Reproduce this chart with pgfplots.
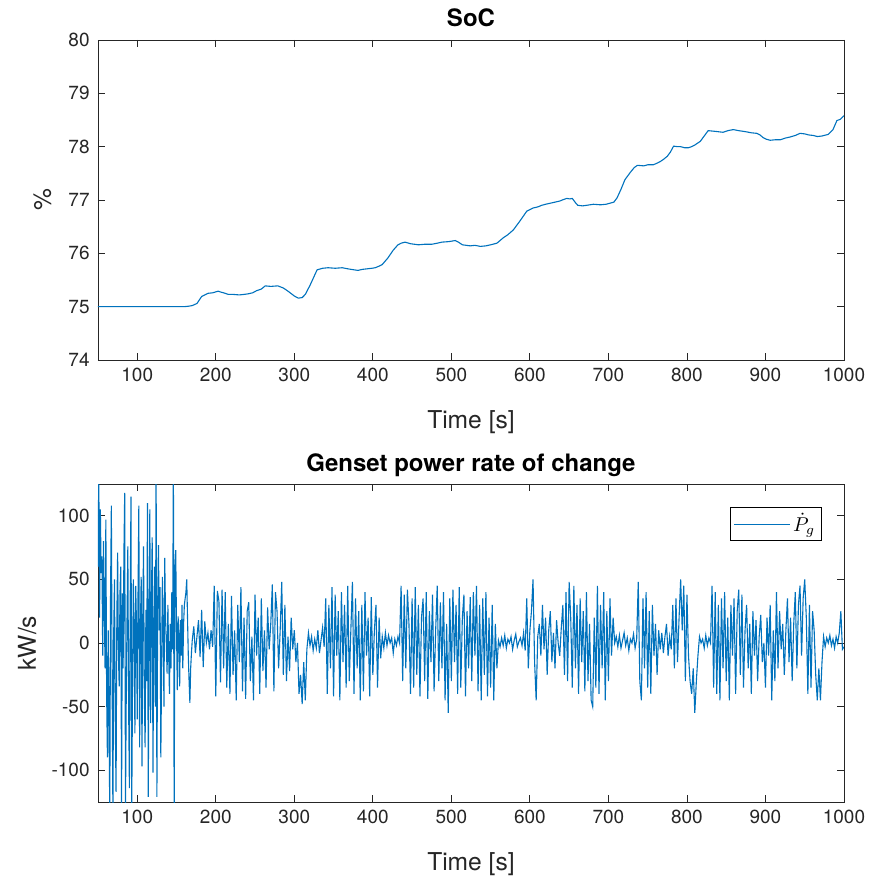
\documentclass[border=0pt]{standalone}
\usepackage{pgfplots}
\pgfplotsset{compat=1.18}
\usepackage{fontspec}
\setmainfont{TeX Gyre Heros}
\definecolor{mblue}{rgb}{0,0.447,0.741}
\definecolor{maxis}{rgb}{0.15,0.15,0.15}
\pgfplotsset{
  mstyle/.style={
    scale only axis, width=373pt,
    xmin=50, xmax=1000,
    xtick={100,200,...,1000},
    axis line style={maxis, line width=0.4pt},
    tick style={maxis, line width=0.4pt},
    major tick length=3.5pt,
    tick align=inside,
    /pgf/number format/assume math mode=true,
    /pgf/number format/1000 sep={},
    tick label style={font=\fontsize{9.5}{11}\selectfont, text=maxis},
    xticklabel style={inner sep=0pt, yshift=-4pt},
    yticklabel style={inner sep=0pt, xshift=-4pt},
    label style={font=\fontsize{12.3}{14}\selectfont, text=maxis},
    title style={font=\bfseries\fontsize{12}{14}\selectfont, text=black, inner sep=0pt, anchor=base, at={(axis description cs:0.5,1)}, yshift=0.5pt},
    xlabel style={inner sep=0pt, anchor=north, at={(axis description cs:0.5,0)}, yshift=-25pt},
    ylabel style={inner sep=0pt, anchor=south},
  }
}
\pgfplotstableread{
t soc
50 75.00
100 75.00
150 75.00
160 75.00
166 75.01
170 75.02
176 75.06
182 75.19
186 75.22
190 75.25
196 75.26
203 75.29
207 75.27
210 75.26
216 75.23
222 75.23
230 75.22
236 75.23
241 75.24
247 75.26
252 75.30
258 75.33
263 75.39
270 75.38
279 75.39
286 75.35
292 75.29
300 75.20
305 75.16
310 75.17
314 75.23
320 75.40
329 75.69
336 75.72
343 75.73
352 75.72
361 75.73
368 75.71
372 75.70
381 75.68
387 75.70
393 75.71
399 75.72
403 75.73
408 75.76
412 75.79
419 75.91
426 76.06
432 76.16
436 76.19
441 76.21
448 76.18
458 76.16
466 76.17
475 76.17
482 76.19
488 76.21
497 76.22
505 76.24
509 76.21
514 76.16
524 76.14
530 76.15
537 76.13
544 76.14
550 76.16
558 76.19
566 76.29
572 76.35
579 76.44
588 76.62
596 76.79
604 76.85
610 76.87
615 76.90
620 76.92
626 76.94
632 76.96
638 76.98
643 77.01
647 77.03
651 77.02
654 77.03
658 76.95
661 76.90
667 76.89
672 76.90
681 76.92
690 76.91
697 76.92
702 76.94
707 76.96
711 77.04
716 77.20
721 77.38
728 77.52
733 77.61
737 77.65
745 77.64
750 77.66
757 77.66
762 77.69
766 77.72
770 77.76
775 77.82
779 77.90
783 78.01
788 78.00
792 78.00
797 77.98
802 77.98
806 78.00
810 78.03
817 78.10
822 78.20
827 78.30
834 78.29
840 78.28
846 78.27
852 78.30
859 78.32
866 78.30
875 78.28
882 78.26
889 78.25
893 78.22
897 78.17
901 78.14
906 78.12
913 78.13
919 78.13
925 78.16
931 78.18
938 78.21
944 78.25
950 78.24
955 78.22
961 78.21
966 78.19
972 78.20
980 78.23
986 78.32
991 78.49
995 78.51
1000 78.58
}\soctable
\pgfplotstableread{
t p
50 60
51 135
52 20
53 105
54 55
55 68
56 -10
57 80
58 30
59 -20
60 97
61 -40
62 -90
63 10
64 -60
65 -135
66 40
67 108
68 -30
69 -135
70 7
71 50
72 -60
73 -117
74 20
75 71
76 -10
77 -34
78 40
79 60
80 -130
81 39
82 -20
83 70
84 118
85 -130
86 -40
87 20
88 76
89 -50
90 -114
91 30
92 115
93 -128
94 -30
95 50
96 10
97 -71
98 45
99 15
100 -60
101 40
102 108
103 -82
104 10
105 52
106 -97
107 20
108 76
109 -40
110 -82
111 26
112 -30
113 110
114 -121
115 0
116 105
117 -63
118 30
119 83
120 -102
121 10
122 60
123 -50
124 140
125 -121
126 30
127 77
128 10
129 44
130 -90
131 -20
132 52
133 10
134 -50
135 67
136 20
137 0
138 -24
139 30
140 -10
141 -40
142 15
143 -20
144 40
145 -5
146 140
147 -140
148 60
149 73
150 10
151 -37
152 21
153 7
154 -34
155 18
156 -10
157 30
158 -20
159 15
160 30
162 40
163 50
164 20
165 -10
166 -30
167 -47
168 -20
169 -8
170 2
172 13
174 -8
176 5
178 18
180 -11
182 26
184 -19
186 17
188 0
190 8
192 -5
194 10
196 -3
198 45
200 -42
202 41
204 33
206 -31
208 42
210 -20
212 40
214 -35
216 15
218 -40
220 37
222 -25
224 10
226 -45
228 30
230 -15
232 44
234 -38
236 20
238 -44
240 25
242 32
244 -30
246 5
248 -45
250 38
252 -10
254 20
256 -40
258 35
260 -22
262 10
264 -35
266 28
268 -5
270 15
272 46
274 -38
276 40
278 25
280 -20
282 10
284 48
286 -25
288 30
290 -30
292 5
294 -22
296 20
298 -5
300 10
302 -15
304 0
306 -40
308 -25
310 -48
312 -15
314 -45
316 -5
318 8
320 -2
322 5
324 -6
326 3
328 -4
330 10
332 -8
334 2
336 12
338 -3
340 35
342 -40
344 30
346 -20
348 44
350 -42
352 38
354 -10
356 25
358 -45
360 40
362 -15
364 30
366 -35
368 45
370 -30
372 10
374 48
376 -40
378 35
380 -20
382 25
384 -45
386 30
388 -38
390 40
392 -10
394 20
396 -42
398 36
400 -25
402 10
404 30
406 -35
408 20
410 -12
412 5
414 -4
416 8
418 -2
420 6
422 0
424 4
426 -8
428 3
430 -2
432 5
434 0
436 45
438 -30
440 38
442 -20
444 42
446 15
448 -40
450 35
452 -35
454 44
456 -25
458 30
460 -42
462 20
464 35
466 -30
468 40
470 -44
472 25
474 -15
476 38
478 -38
480 10
482 45
484 -30
486 32
488 -20
490 40
492 -45
494 15
496 -55
498 35
500 -30
502 42
504 -15
506 30
508 -40
510 44
512 -35
514 20
516 38
518 -42
520 25
522 -20
524 36
526 -30
528 40
530 -10
532 45
534 -38
536 30
538 -45
540 35
542 -25
544 40
546 -42
548 20
550 -35
552 30
554 -45
556 15
558 -20
560 2
562 -3
564 4
566 -2
568 6
570 -4
572 3
574 0
576 5
578 -5
580 2
582 7
584 -3
586 1
588 4
590 -2
592 8
594 -6
596 35
598 -20
600 10
602 25
604 50
606 -15
608 -45
610 5
612 15
614 -10
616 30
618 -5
620 20
622 -25
624 10
626 25
628 -15
630 8
632 -20
634 18
636 0
638 -10
640 12
642 30
644 -25
646 40
648 -30
650 48
652 20
654 -35
656 45
658 -20
660 30
662 -40
664 35
666 -15
668 25
670 -38
672 40
674 -30
676 15
678 -45
680 -50
682 20
684 -35
686 45
688 -40
690 30
692 -20
694 40
696 -45
698 25
700 -30
702 35
704 -10
706 20
708 0
710 5
712 -3
714 6
716 -4
718 2
720 8
722 -2
724 4
726 -6
728 3
730 0
732 7
734 -4
736 3
738 48
740 -30
742 -45
744 35
746 -20
748 40
750 -35
752 25
754 -40
756 30
758 -10
760 15
762 -25
764 10
766 -5
768 8
770 -8
772 5
774 15
776 -10
778 5
780 -5
782 30
784 -20
786 35
788 -15
790 20
792 50
794 10
796 45
798 -30
800 38
802 -10
804 -30
806 -40
808 -20
810 -55
812 -30
814 -10
816 5
818 0
820 3
822 -4
824 6
826 -2
828 4
830 0
832 45
834 -35
836 40
838 -40
840 30
842 -45
844 35
846 -20
848 40
850 -30
852 20
854 -45
856 30
858 -10
860 35
862 -40
864 25
866 42
868 -25
870 38
872 -35
874 10
876 30
878 -20
880 15
882 -40
884 25
886 -10
888 18
890 -30
892 5
894 22
896 -15
898 0
900 -35
902 20
904 -10
906 30
908 -45
910 10
912 -30
914 40
916 -20
918 25
920 -5
922 15
924 -25
926 10
928 35
930 -15
932 20
934 -30
936 15
938 40
940 -20
942 30
944 45
946 -10
948 35
950 50
952 20
954 -40
956 30
958 -35
960 25
962 10
964 -25
966 -45
968 -20
970 -45
972 -15
974 5
976 -3
978 4
980 0
982 6
984 -2
986 3
988 -4
990 5
992 0
994 8
996 25
998 -5
1000 -3
}\ptable
\begin{document}
\begin{tikzpicture}
\useasboundingbox (-49pt,-38.5pt) rectangle (387pt,401pt);
\begin{axis}[mstyle, at={(0,221pt)}, anchor=south west, height=160pt,
  ymin=74, ymax=80, ytick={74,75,...,80},
  title={SoC}, xlabel={Time [s]}, ylabel={\%},
  ylabel style={at={(axis description cs:-0.062,0.5)}},
]
\addplot[mblue, line width=0.55pt] table[x=t,y=soc] {\soctable};
\end{axis}
\begin{axis}[mstyle, at={(0,0)}, anchor=south west, height=159pt,
  ymin=-125, ymax=125, ytick={-100,-50,0,50,100},
  title={Genset power rate of change}, xlabel={Time [s]}, ylabel={kW/s},
  ylabel style={at={(axis description cs:-0.082,0.5)}},
  legend style={at={(axis description cs:0.97,0.928)}, anchor=north east,
    draw=black, line width=0.4pt, inner sep=1.5pt, font=\fontsize{10}{11}\selectfont,
    legend cell align=left, nodes={inner sep=1.5pt}},
  legend image post style={line width=0.5pt},
  legend image code/.code={\draw[#1] (0cm,0cm) -- (0.98cm,0cm);},
]
\addplot[mblue, line width=0.55pt] table[x=t,y=p] {\ptable};
\addlegendentry{$\dot{P}_g$}
\end{axis}
\end{tikzpicture}
\end{document}
